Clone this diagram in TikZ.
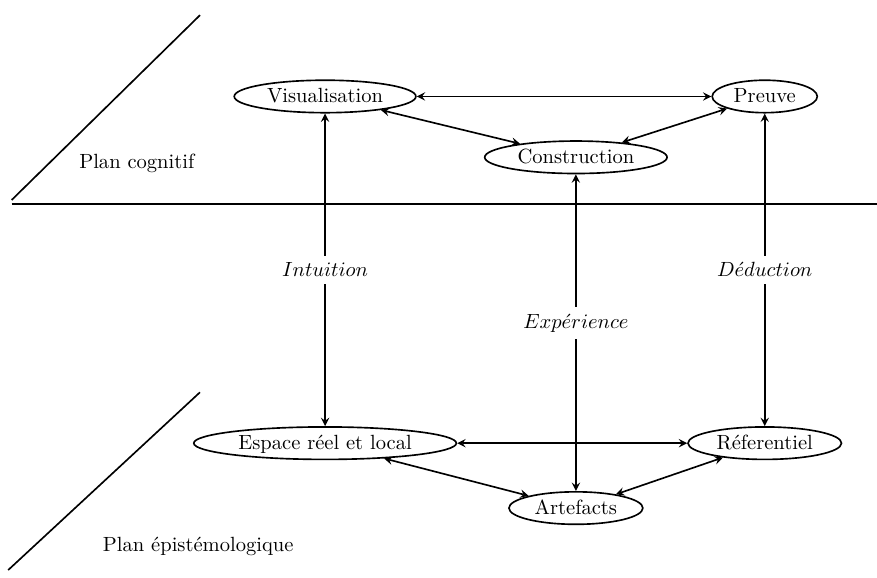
\documentclass[tikz,border=0pt]{standalone}
\usetikzlibrary{shapes.geometric,arrows}
\begin{document}
\begin{tikzpicture}[>=stealth, thick,
   plan_style/.style={ellipse,draw=black,inner xsep=3pt,inner ysep=1.6pt,text height=1.6ex,text depth=.25ex},
   edge_style/.style={draw=black, thick, <->}]
	\useasboundingbox (0,0) rectangle (15,9.87);
	% plan separators
	\draw (0.2,6.38) -- (15,6.38);
	\draw (0.2,6.45) -- (3.42,9.61);
	\draw (0.14,0.12) -- (3.42,3.16);
	\node (cog) at (2.34,7.08) {Plan cognitif};
	\node (epi) at (3.39,0.53) {Plan \'epist\'emologique};

	\node [plan_style] (vis) at (5.56,8.22)  {Visualisation};
	\node [plan_style] (pre) at (13.08,8.22) {Preuve};
	\node [plan_style] (con) at (9.85,7.18)  {Construction};
	\node [plan_style] (esp) at (5.56,2.29)  {Espace r\'eel et local};
	\node [plan_style] (ref) at (13.08,2.29) {R\'eferentiel};
	\node [plan_style] (art) at (9.85,1.18)  {Artefacts};

	\foreach \from/\to in {vis/pre, vis/con, con/pre, esp/ref, esp/art, art/ref}
	  \draw [edge_style] (\from) -- (\to);

	\draw [edge_style] (vis) -- node[fill=white]{$Intuition$} (esp);
	\draw [edge_style] (con) -- node[fill=white,pos=0.47]{$Exp\acute{e}rience$} (art);
	\draw [edge_style] (pre) -- node[fill=white]{$D\acute{e}duction$} (ref);

	\end{tikzpicture}
\end{document}
